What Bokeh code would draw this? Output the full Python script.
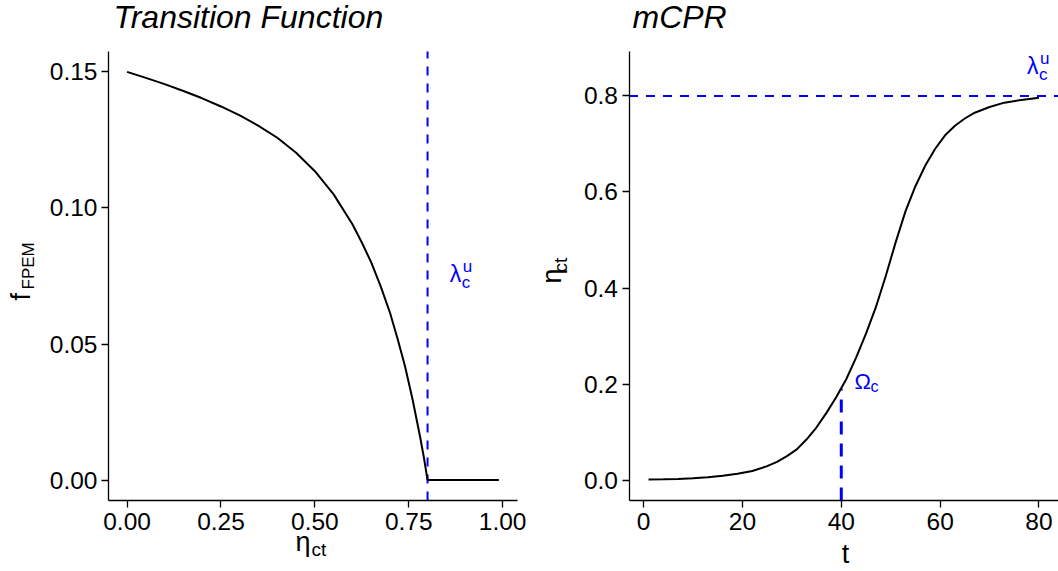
import math
from bokeh.plotting import figure
from bokeh.layouts import row
from bokeh.models import Range1d, FixedTicker, Label, NumeralTickFormatter
from bokeh.embed import file_html
from bokeh.resources import INLINE

# ---------------- data ----------------
eta_ct = [0.00, 0.05, 0.10, 0.15, 0.20, 0.25, 0.30, 0.35, 0.40, 0.45, 0.50, 0.55,
          0.60, 0.625, 0.65, 0.675, 0.70, 0.72, 0.74, 0.76, 0.78, 0.79, 0.80,
          0.85, 0.90, 0.95, 0.99]
f_fpem = [0.1500, 0.1478, 0.1455, 0.1430, 0.1403, 0.1373, 0.1340, 0.1302, 0.1258, 0.1203,
          0.1135, 0.1050, 0.0940, 0.0873, 0.0800, 0.0713, 0.0615, 0.0520, 0.0418, 0.0297,
          0.0160, 0.0085, 0.0, 0.0, 0.0, 0.0, 0.0]

t_vals = [1, 4, 7, 10, 13, 16, 19, 22, 25, 27, 29, 31, 33, 35, 37, 39, 41, 43, 45, 47,
          49, 51, 53, 55, 57, 59, 61, 63, 65, 67, 70, 73, 76, 80]
mcpr = [0.001, 0.0015, 0.0025, 0.004, 0.006, 0.009, 0.013, 0.019, 0.029, 0.038, 0.050,
        0.064, 0.085, 0.110, 0.140, 0.173, 0.210, 0.255, 0.305, 0.360, 0.425, 0.495,
        0.560, 0.612, 0.655, 0.690, 0.718, 0.738, 0.753, 0.765, 0.777, 0.786, 0.791, 0.796]

lambda_u = 0.8        # asymptote lambda_c^u
omega_t = 40          # Omega_c
omega_val = 0.19      # mCPR at Omega_c

left_xticks = [0, 0.25, 0.5, 0.75, 1.0]
left_yticks = [0, 0.05, 0.10, 0.15]
right_xticks = [0, 20, 40, 60, 80]
right_yticks = [0, 0.2, 0.4, 0.6, 0.8]

left_title = "Transition Function"
right_title = "mCPR"

FONT = "Liberation Sans"
BLUE = "#0000FF"
H = 571
FIG_W = 529
BASE_K = 0.34   # empirical baseline correction (fraction of font size)


class Panel:
    """A figure whose frame fills the whole figure; the axes are fixed at the
    edges of an inner panel box (page pixels) that shows the data box."""

    def __init__(self, fig_left, box_px, box_data):
        self.fig_left = fig_left
        l, r, t, b = box_px
        x0, x1, y0, y1 = box_data
        self.box_data = box_data
        sx = (x1 - x0) / (r - l)
        sy = (y1 - y0) / (b - t)
        self.sx, self.sy = sx, sy
        xs = x0 - (l - fig_left) * sx
        xe = x1 + (fig_left + FIG_W - r) * sx
        ye = y1 + t * sy
        ys = y0 - (H - b) * sy
        self.xr = Range1d(xs, xe)
        self.yr = Range1d(ys, ye)
        p = figure(width=FIG_W, height=H, x_range=self.xr, y_range=self.yr,
                   output_backend="svg", toolbar_location=None,
                   min_border=0, min_border_left=0, min_border_right=0,
                   min_border_top=0, min_border_bottom=0)
        p.outline_line_color = None
        p.xgrid.grid_line_color = None
        p.ygrid.grid_line_color = None
        p.background_fill_color = "white"
        p.border_fill_color = "white"
        p.xaxis.fixed_location = y0
        p.yaxis.fixed_location = x0
        p.xaxis.bounds = (x0, x1)
        p.yaxis.bounds = (y0, y1)
        self.p = p

    def dx(self, px):
        return self.xr.start + (px - self.fig_left) * self.sx

    def dy(self, py):
        return self.yr.end - py * self.sy

    def text(self, px, py, text, size, color="black", align="left", rotated=False,
             style_="normal"):
        s = float(size.replace("px", ""))
        if rotated:
            px, py, angle = px - BASE_K * s, py, math.pi / 2
        else:
            px, py, angle = px, py - BASE_K * s, 0.0
        self.p.add_layout(Label(x=self.dx(px), y=self.dy(py), text=text,
                                text_font=FONT, text_font_size=size,
                                text_color=color, text_align=align,
                                text_baseline="alphabetic", angle=angle,
                                text_font_style=style_, level="overlay"))

    def dlabel(self, x, y, text, size, xo=0, yo=0, color=BLUE):
        s = float(size.replace("px", ""))
        self.p.add_layout(Label(x=x, y=y, x_offset=xo, y_offset=yo + BASE_K * s,
                                text=text, text_font=FONT, text_font_size=size,
                                text_color=color, text_align="left",
                                text_baseline="alphabetic", level="overlay"))


def style(p, xticks, yticks, xfmt, yfmt):
    p.xaxis.ticker = FixedTicker(ticks=xticks)
    p.yaxis.ticker = FixedTicker(ticks=yticks)
    p.xaxis.formatter = NumeralTickFormatter(format=xfmt)
    p.yaxis.formatter = NumeralTickFormatter(format=yfmt)
    for ax in (p.xaxis, p.yaxis):
        ax.axis_line_color = "black"
        ax.axis_line_width = 1.3
        ax.major_tick_line_color = "black"
        ax.major_tick_line_width = 1.3
        ax.major_tick_in = 0
        ax.major_tick_out = 7
        ax.minor_tick_line_color = None
        ax.major_label_text_font = FONT
        ax.major_label_text_font_size = "24.5px"
        ax.major_label_text_color = "black"
    p.xaxis.major_label_standoff = 5
    p.yaxis.major_label_standoff = 4


# ---------------- left panel ----------------
L = Panel(0, (108, 517, 51, 500), (-0.0495, 1.0395, -0.0075, 0.1575))
p1 = L.p
style(p1, left_xticks, left_yticks, "0.00", "0.00")
lx0, lx1, ly0, ly1 = L.box_data
p1.segment(x0=[lambda_u], y0=[ly0], x1=[lambda_u], y1=[ly1],
           line_color=BLUE, line_width=2, line_dash="9 8")
p1.line(eta_ct, f_fpem, line_color="black", line_width=2)

L.text(113, 27, left_title, "32px", style_="italic")
L.text(310, 551, "η", "27px", align="right")
L.text(311, 555, "ct", "19px")
L.text(30, 300, "f", "27px", rotated=True)
L.text(34, 289, "FPEM", "17px", rotated=True)
L.dlabel(0.859, 0.0728, "λ", "23px")
L.dlabel(0.859, 0.0728, "u", "17px", xo=13, yo=10)
L.dlabel(0.859, 0.0728, "c", "17px", xo=12, yo=-6)

# ---------------- right panel ----------------
R = Panel(529, (628.5, 1058, 51, 500), (-2.95, 83.95, -0.0425, 0.8925))
p2 = R.p
style(p2, right_xticks, right_yticks, "0", "0.0")
rx0, rx1, ry0, ry1 = R.box_data
p2.segment(x0=[rx0], y0=[lambda_u], x1=[rx1], y1=[lambda_u],
           line_color=BLUE, line_width=2, line_dash="9 8")
p2.segment(x0=[omega_t], y0=[ry0], x1=[omega_t], y1=[omega_val],
           line_color=BLUE, line_width=3, line_dash="13 9")
p2.line(t_vals, mcpr, line_color="black", line_width=2)

R.text(632, 27, right_title, "32px", style_="italic")
R.text(845, 563, "t", "27px", align="center")
R.text(561, 283, "η", "27px", rotated=True)
R.text(566, 272, "ct", "19px", rotated=True)
R.dlabel(77.6, 0.845, "λ", "23px")
R.dlabel(77.6, 0.845, "u", "17px", xo=13, yo=10)
R.dlabel(77.6, 0.845, "c", "17px", xo=12, yo=-6)
R.dlabel(42.7, omega_val, "Ω", "22px")
R.dlabel(42.7, omega_val, "c", "16px", xo=16, yo=-3)

layout = row(p1, p2)
open("out.html", "w").write(file_html(layout, INLINE))
